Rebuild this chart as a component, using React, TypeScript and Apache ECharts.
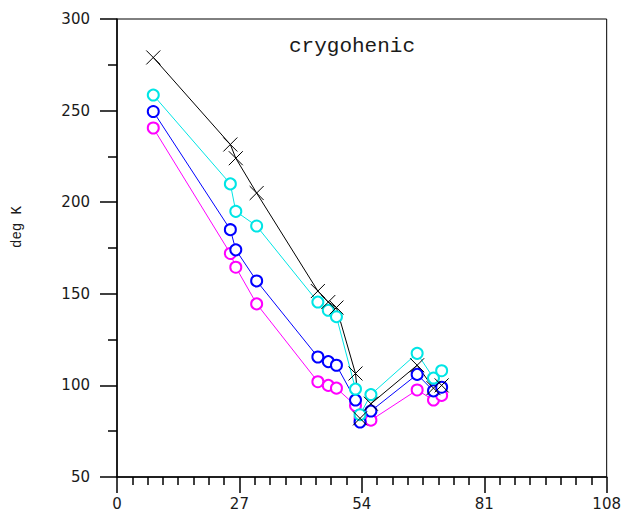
import React, { useEffect, useRef } from "react";
import * as echarts from "echarts";

const xValues = [8, 25, 26.2, 30.8, 44.3, 46.6, 48.4, 52.6, 53.6, 56, 66.2, 69.8, 71.6];
const blackSeries = [279, 231.5, 224, 205, 151.5, 145.5, 142.5, 106.5, 82, 90, 111, 98.5, 100];
const cyanSeries = [258.5, 210, 195, 187, 145.5, 141, 137.5, 98, 84, 95, 117.5, 104, 108];
const blueSeries = [249.5, 185, 174, 157, 115.5, 113, 111, 92, 80, 86, 106, 97, 99];
const magentaSeries = [240.5, 172, 164.5, 144.5, 102, 100, 98.5, 89, 82, 81, 97.5, 92, 94.5];
const xTicks = [0, 27, 54, 81, 108];
const yTicks = [50, 100, 150, 200, 250, 300];
const titleText = "crygohenic";
const yAxisTitle = "deg K";

const pair = (ys: number[]) => xValues.map((x, i) => [x, ys[i]]);

export default function App() {
  const ref = useRef<HTMLDivElement>(null);
  useEffect(() => {
    if (!ref.current) return;
    const chart = echarts.init(ref.current, null, { renderer: "svg" });
    const labelFont = { fontFamily: "DejaVu Sans", fontSize: 15, color: "#1a1a1a" };
    const circleSeries = (name: string, ys: number[], color: string) => ({
      name,
      type: "line",
      data: pair(ys),
      symbol: "emptyCircle",
      symbolSize: 11,
      lineStyle: { color, width: 1 },
      itemStyle: { color, borderColor: color, borderWidth: 1.3 },
    });
    chart.setOption({
      animation: false,
      backgroundColor: "#fff",
      grid: {
        left: 117,
        right: 17,
        top: 19,
        bottom: 40,
        show: true,
        borderColor: "#000",
        borderWidth: 1,
      },
      xAxis: {
        type: "value",
        min: xTicks[0],
        max: xTicks[xTicks.length - 1],
        interval: 27,
        axisLine: { show: true, onZero: false, lineStyle: { color: "#000", width: 1.5 } },
        axisTick: { show: true, inside: false, length: 16, lineStyle: { color: "#000", width: 1.5 } },
        minorTick: { show: true, splitNumber: 8, length: 8, lineStyle: { color: "#000", width: 1.5 } },
        splitLine: { show: false },
        axisLabel: { ...labelFont, margin: 19 },
      },
      yAxis: {
        type: "value",
        min: yTicks[0],
        max: yTicks[yTicks.length - 1],
        interval: 50,
        axisLine: { show: true, onZero: false, lineStyle: { color: "#000", width: 1.5 } },
        axisTick: { show: true, inside: false, length: 17, lineStyle: { color: "#000", width: 1.5 } },
        minorTick: { show: true, splitNumber: 2, length: 9, lineStyle: { color: "#000", width: 1.5 } },
        splitLine: { show: false },
        axisLabel: { ...labelFont, margin: 27 },
      },
      graphic: [
        {
          type: "text",
          x: 352,
          y: 46,
          style: {
            text: titleText,
            fontFamily: "Liberation Mono",
            fontSize: 21,
            fill: "#1a1a1a",
            textAlign: "center",
            textVerticalAlign: "middle",
          },
        },
        {
          type: "text",
          x: 17,
          y: 227,
          rotation: Math.PI / 2,
          style: {
            text: yAxisTitle,
            fontFamily: "Liberation Mono",
            fontSize: 14,
            fill: "#1a1a1a",
            textAlign: "center",
            textVerticalAlign: "middle",
          },
        },
      ],
      series: [
        circleSeries("magenta", magentaSeries, "#ff00ff"),
        circleSeries("blue", blueSeries, "#0000ff"),
        circleSeries("cyan", cyanSeries, "#00e5e5"),
        {
          name: "black",
          type: "line",
          data: pair(blackSeries),
          symbol: "path://M0,0L10,10M10,0L0,10",
          symbolSize: 14,
          lineStyle: { color: "#000", width: 1 },
          itemStyle: { color: "none", borderColor: "#000", borderWidth: 1 },
        },
      ],
    });
    return () => chart.dispose();
  }, []);
  return (
    <div
      ref={ref}
      style={{ position: "fixed", left: 0, top: 0, width: 624, height: 517, background: "#fff" }}
    />
  );
}
